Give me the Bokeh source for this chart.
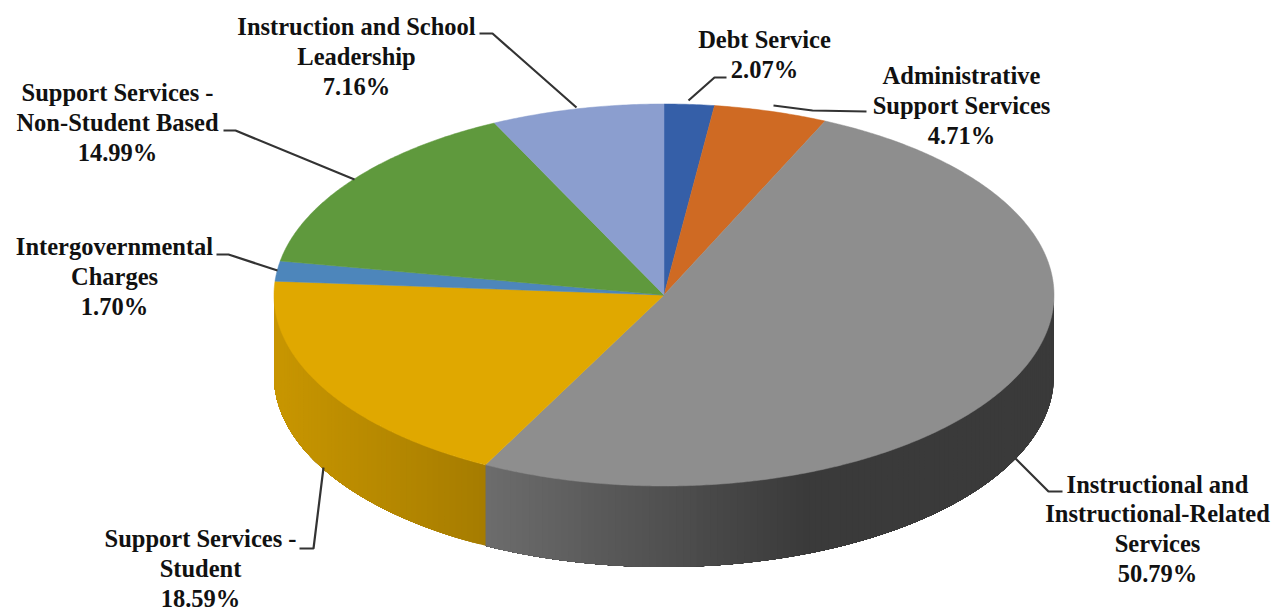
import math
from bokeh.plotting import figure
from bokeh.models import ColumnDataSource, Range1d
from bokeh.core.properties import value
from bokeh.embed import file_html
from bokeh.resources import INLINE

categories = ["Debt Service", "Administrative\nSupport Services",
              "Instructional and\nInstructional-Related\nServices",
              "Support Services -\nStudent", "Intergovernmental\nCharges",
              "Support Services -\nNon-Student Based", "Instruction and School\nLeadership"]
shares = [2.07, 4.71, 50.79, 18.59, 1.70, 14.99, 7.16]
top_colors = ["#355fa8", "#cf6a23", "#8e8e8e", "#e0a800", "#4d86bb", "#5f993d", "#8b9ecf"]

# layout of the label block (centre x, first-line y) and leader lines, in page pixels
label_pos = [(764, 39), (961, 75), (1157, 483.5), (200, 538), (114, 246), (117, 92), (356, 26)]
leaders = [
    [(726, 77), (714, 77), (688, 100)],
    [(866, 111), (812, 110), (773, 105)],
    [(1062, 491), (1048, 491), (1015, 458)],
    [(299, 548), (313, 548), (323, 467)],
    [(216, 254), (228, 254), (277, 270)],
    [(223, 130), (235, 130), (354, 179)],
    [(479, 33), (492, 33), (576, 107)],
]
CX, CY, RX, RY, DEPTH = 663.5, 294.5, 390, 191, 81
LINE_H = 29.8

p = figure(width=1280, height=612, output_backend="svg", toolbar_location=None,
           x_range=Range1d(0, 1280), y_range=Range1d(612, 0),
           min_border=0, outline_line_color=None, background_fill_color="white",
           border_fill_color="white")
p.axis.visible = False
p.grid.visible = False

def pt(deg, dy=0):
    a = math.radians(deg)
    return CX + RX * math.sin(a), CY - RY * math.cos(a) + dy

def lerp_hex(c0, c1, t):
    t = max(0, min(1, t))
    return "#%02x%02x%02x" % tuple(round(a + (b - a) * t) for a, b in zip(c0, c1))

total = sum(shares)
edges = [0]
for s in shares:
    edges.append(edges[-1] + s / total * 360)

def wall_color(i, x):
    if i == 2:
        return lerp_hex((0x6c, 0x6c, 0x6c), (0x3a, 0x3a, 0x3a), (x - 485) / 320)
    return lerp_hex((0xc8, 0x96, 0x00), (0xa6, 0x7c, 0x00), (x - 275) / 210)

# front walls: each strip spans to the slice end, so the next one only recolours its own part
xs, ys, cs = [], [], []
for i in range(len(shares)):
    a0, a1 = max(edges[i], 90), min(edges[i + 1], 270)
    if a1 <= a0:
        continue
    n = max(1, int((a1 - a0) / 1.0))
    for k in range(n):
        u0 = a0 + (a1 - a0) * k / n
        u1 = a0 + (a1 - a0) * (k + 1) / n
        arc = [pt(u0 + (a1 - u0) * j / 40) for j in range(41)]
        barc = [pt(a1 - (a1 - u0) * j / 40, DEPTH) for j in range(41)]
        xs.append([q[0] for q in arc] + [q[0] for q in barc])
        ys.append([q[1] for q in arc] + [q[1] for q in barc])
        cs.append(wall_color(i, (pt(u0)[0] + pt(u1)[0]) / 2))
p.patches("xs", "ys", fill_color="cs", line_color=None,
          source=ColumnDataSource(dict(xs=xs, ys=ys, cs=cs)))

# top faces
xs, ys = [], []
for i in range(len(shares)):
    n = max(4, int((edges[i + 1] - edges[i]) / 0.5))
    arc = [pt(edges[i] + (edges[i + 1] - edges[i]) * k / n) for k in range(n + 1)]
    xs.append([CX] + [q[0] for q in arc])
    ys.append([CY] + [q[1] for q in arc])
p.patches("xs", "ys", fill_color="cs", line_color="cs", line_width=0.5,
          source=ColumnDataSource(dict(xs=xs, ys=ys, cs=top_colors)))

# leaders
p.multi_line([[q[0] for q in l] for l in leaders], [[q[1] for q in l] for l in leaders],
             line_color="#333333", line_width=2.2)

# labels
tx, ty, tt = [], [], []
for c, s, (x, y) in zip(categories, shares, label_pos):
    lines = c.split("\n") + ["%.2f%%" % s]
    for j, line in enumerate(lines):
        tx.append(x); ty.append(y + j * LINE_H); tt.append(line)
p.text("tx", "ty", "tt", source=ColumnDataSource(dict(tx=tx, ty=ty, tt=tt)),
       text_font=value("Liberation Serif"), text_font_style="bold", text_font_size="24.5px",
       text_color="#111111", text_align="center", text_baseline="middle")

open("out.html", "w").write(file_html(p, INLINE))
